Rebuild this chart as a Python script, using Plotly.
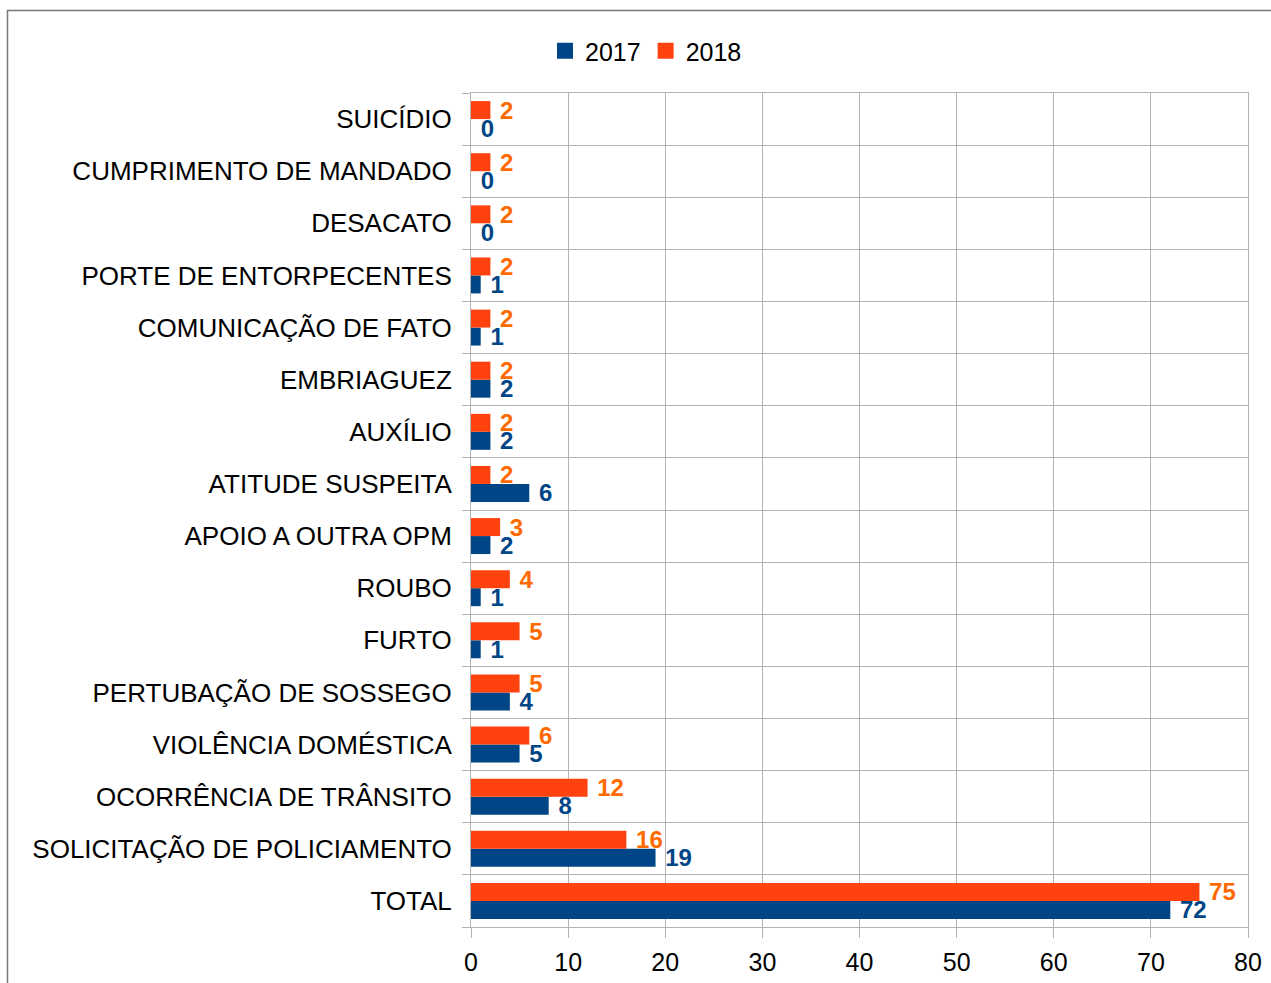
import plotly.graph_objects as go

categories = [
    "TOTAL",
    "SOLICITAÇÃO DE POLICIAMENTO",
    "OCORRÊNCIA DE TRÂNSITO",
    "VIOLÊNCIA DOMÉSTICA",
    "PERTUBAÇÃO DE SOSSEGO",
    "FURTO",
    "ROUBO",
    "APOIO A OUTRA OPM",
    "ATITUDE SUSPEITA",
    "AUXÍLIO",
    "EMBRIAGUEZ",
    "COMUNICAÇÃO DE FATO",
    "PORTE DE ENTORPECENTES",
    "DESACATO",
    "CUMPRIMENTO DE MANDADO",
    "SUICÍDIO",
]
values_2017 = [72, 19, 8, 5, 4, 1, 1, 2, 6, 2, 2, 1, 1, 0, 0, 0]
values_2018 = [75, 16, 12, 6, 5, 5, 4, 3, 2, 2, 2, 2, 2, 2, 2, 2]
x_ticks = [0, 10, 20, 30, 40, 50, 60, 70, 80]
series_names = ["2017", "2018"]

FONT = "Liberation Sans, Arial, sans-serif"
BLUE = "#004586"
RED = "#ff420e"
ORANGE_TXT = "#ff6a00"
GRID = "#b3b3b3"

fig = go.Figure()
fig.add_trace(go.Bar(
    name=series_names[0], y=categories, x=values_2017, orientation="h",
    marker=dict(color=BLUE, line=dict(width=0)),
    text=[" " + str(v) for v in values_2017], textposition="outside",
    textfont=dict(family=FONT, size=24, color=BLUE, weight="bold"),
    cliponaxis=False, constraintext="none", showlegend=False, hoverinfo="skip",
))
fig.add_trace(go.Bar(
    name=series_names[1], y=categories, x=values_2018, orientation="h",
    marker=dict(color=RED, line=dict(width=0)),
    text=[" " + str(v) for v in values_2018], textposition="outside",
    textfont=dict(family=FONT, size=24, color=ORANGE_TXT, weight="bold"),
    cliponaxis=False, constraintext="none", showlegend=False, hoverinfo="skip",
))
# legend entries with larger square symbols
for name, col in zip(series_names, [BLUE, RED]):
    fig.add_trace(go.Scatter(
        name=name, x=[None], y=[None], mode="markers",
        marker=dict(symbol="square", size=16, color=col),
        showlegend=True,
    ))

W, H = 1271, 983
L, R, T, B = 471, 1248, 93, 927

fig.update_layout(
    width=W, height=H,
    margin=dict(l=L, r=W - R, t=T, b=H - B, pad=0, autoexpand=False),
    paper_bgcolor="white", plot_bgcolor="white",
    barmode="group", bargap=0.31, bargroupgap=0,
    font=dict(family=FONT, size=24, color="black"),
    legend=dict(
        orientation="h", x=(646 - L) / (R - L), xanchor="center",
        y=(B - 51) / (B - T), yanchor="middle",
        font=dict(family=FONT, size=25, color="black"),
        itemwidth=30, traceorder="normal", bgcolor="rgba(0,0,0,0)",
    ),
    xaxis=dict(
        range=[0, 80], tickvals=x_ticks, showgrid=True, gridcolor=GRID, gridwidth=1,
        zeroline=False, showline=True, linecolor=GRID, mirror=True,
        ticks="outside", ticklen=10, tickcolor=GRID,
        tickfont=dict(family=FONT, size=25, color="black"),
        ticklabelstandoff=3, automargin=False,
        fixedrange=True,
    ),
    yaxis=dict(
        type="category", categoryorder="array", categoryarray=categories,
        tickson="boundaries", showgrid=True, gridcolor=GRID, gridwidth=1,
        showline=True, linecolor=GRID, mirror=True,
        ticks="outside", ticklen=8, tickcolor=GRID,
        tickfont=dict(family=FONT, size=26, color="black"),
        ticklabelstandoff=13, automargin=False,
        fixedrange=True,
    ),
    shapes=[dict(
        type="rect", xref="paper", yref="paper",
        x0=(7.5 - L) / (R - L), x1=(1300 - L) / (R - L),
        y0=(B - 1100) / (B - T), y1=(B - 10.5) / (B - T),
        line=dict(color="#777777", width=1.5), fillcolor="rgba(0,0,0,0)", layer="below",
    )],
)

fig.write_html(
    "out.html",
    config={"displayModeBar": False},
    post_script="document.body.style.margin='0';document.body.style.overflow='hidden';",
)
